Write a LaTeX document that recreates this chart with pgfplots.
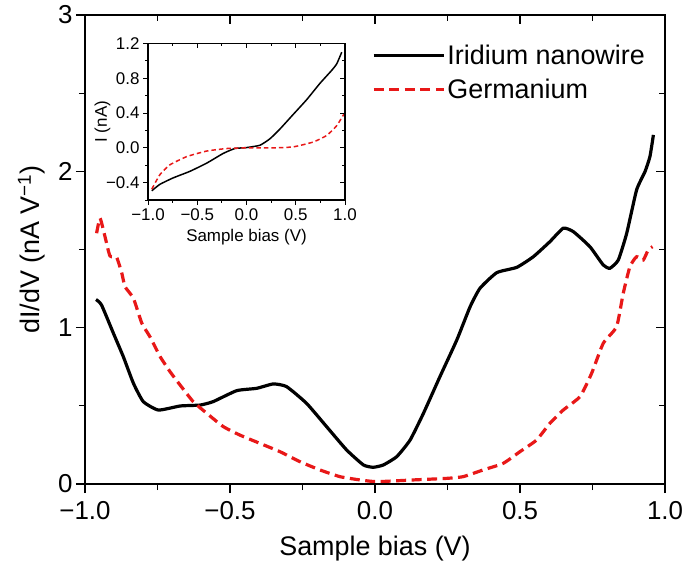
\documentclass[border=0pt]{standalone}
\usepackage{pgfplots}
\pgfplotsset{compat=1.18}
\usepackage{fontspec}
\setmainfont{Liberation Sans}
\definecolor{gered}{RGB}{232,24,24}
\begin{document}
\begin{tikzpicture}
\pgfplotsset{
  common/.style={
    scale only axis,
    xmin=-1, xmax=1,
    axis line style={line width=1.4bp},
    every tick/.style={line width=1.2bp, black},
  }
}
% main axis
\begin{axis}[common,
  width=580bp, height=469bp,
  ymin=0, ymax=3,
  xtick={-1,-0.5,0,0.5,1},
  xticklabels={−1.0,−0.5,0.0,0.5,1.0},
  minor xtick={-0.75,-0.25,0.25,0.75},
  ytick={0,1,2,3},
  yticklabels={0,1,2,3},
  minor ytick={0.5,1.5,2.5},
  xtick pos=left, ytick pos=left,
  tick align=outside,
  major tick length=9bp, minor tick length=6bp,
  ticklabel style={font=\fontsize{26}{30}\selectfont},
  xticklabel style={yshift=-5bp},
  xlabel={Sample bias (V)},
  ylabel={dI/dV (nA V\textsuperscript{−1})},
  label style={font=\fontsize{27}{32}\selectfont},
  xlabel style={at={(axis description cs:0.5,0)}, anchor=north, yshift=-48bp},
  ylabel style={at={(axis description cs:0,0.5)}, anchor=south, yshift=36bp},
  legend style={at={(rel axis cs:0.495,0.94)}, anchor=north west, draw=none, fill=none,
    font=\fontsize{27}{30}\selectfont, row sep=9bp, inner sep=0pt,
    nodes={inner sep=2bp}},
  legend cell align=left,
  legend image code/.code={\draw[#1] (0bp,0bp) -- (57bp,0bp); \path (0bp,0bp) -- (70bp,0bp);},
]
\addplot[black, line width=3.2bp, smooth, tension=0.3] coordinates {
(-0.962,1.18) (-0.943,1.145) (-0.902,0.964) (-0.868,0.815) (-0.833,0.644)
(-0.799,0.527) (-0.747,0.473) (-0.672,0.499) (-0.603,0.505) (-0.558,0.527)
(-0.477,0.597) (-0.408,0.612) (-0.351,0.640) (-0.305,0.623) (-0.236,0.516)
(-0.167,0.367) (-0.098,0.218) (-0.040,0.122) (-0.006,0.107) (0.029,0.122)
(0.075,0.175) (0.121,0.281) (0.167,0.452) (0.224,0.687) (0.282,0.921)
(0.328,1.134) (0.362,1.252) (0.420,1.352) (0.489,1.386) (0.546,1.454)
(0.603,1.550) (0.649,1.636) (0.684,1.614) (0.741,1.518) (0.787,1.401)
(0.810,1.380) (0.839,1.433) (0.868,1.604) (0.902,1.881) (0.931,1.998)
(0.948,2.094) (0.960,2.233)
};
\addlegendentry{Iridium nanowire}
\addplot[gered, line width=3.2bp, dash pattern=on 10bp off 5.5bp, smooth, tension=0.3] coordinates {
(-0.960,1.604) (-0.948,1.70) (-0.931,1.582) (-0.914,1.459) (-0.891,1.450)
(-0.873,1.348) (-0.862,1.262) (-0.833,1.188) (-0.804,1.028) (-0.776,0.942)
(-0.741,0.815) (-0.707,0.719) (-0.672,0.633) (-0.627,0.527) (-0.580,0.452)
(-0.523,0.367) (-0.466,0.313) (-0.397,0.260) (-0.328,0.207) (-0.259,0.143)
(-0.190,0.090) (-0.121,0.047) (-0.052,0.026) (0.006,0.015) (0.132,0.026)
(0.247,0.036) (0.304,0.047) (0.373,0.090) (0.442,0.132) (0.500,0.207)
(0.557,0.281) (0.603,0.388) (0.649,0.473) (0.707,0.559) (0.747,0.708)
(0.787,0.900) (0.833,1.006) (0.856,1.220) (0.879,1.390) (0.902,1.454)
(0.925,1.433) (0.942,1.497) (0.957,1.518)
};
\addlegendentry{Germanium}
\end{axis}
% top/right inward ticks for main axis
\begin{axis}[common,
  width=580bp, height=469bp,
  ymin=0, ymax=3,
  xtick={-1,-0.5,0,0.5,1}, minor xtick={-0.75,-0.25,0.25,0.75},
  ytick={0,1,2,3}, minor ytick={0.5,1.5,2.5},
  xticklabels={}, yticklabels={},
  xtick pos=right, ytick pos=right,
  tick align=inside,
  major tick length=9bp, minor tick length=6bp,
]
\end{axis}
% inset
\begin{axis}[common,
  at={(63bp,284bp)}, anchor=south west,
  width=197bp, height=156.5bp,
  ymin=-0.6, ymax=1.2,
  axis line style={line width=1.1bp},
  every tick/.style={line width=0.9bp, black},
  xtick={-1,-0.5,0,0.5,1},
  xticklabels={−1.0,−0.5,0.0,0.5,1.0},
  minor xtick={-0.75,-0.25,0.25,0.75},
  ytick={-0.4,0,0.4,0.8,1.2},
  yticklabels={−0.4,0.0,0.4,0.8,1.2},
  minor ytick={-0.6,-0.2,0.2,0.6,1.0},
  xtick pos=left, ytick pos=left,
  tick align=outside,
  major tick length=5bp, minor tick length=3bp,
  ticklabel style={font=\fontsize{17}{20}\selectfont},
  xlabel={Sample bias (V)},
  ylabel={I (nA)},
  label style={font=\fontsize{17}{20}\selectfont},
  xlabel style={at={(axis description cs:0.5,0)}, anchor=north, yshift=-26bp},
  ylabel style={at={(axis description cs:0,0.5)}, anchor=south, yshift=34bp},
]
\addplot[black, line width=1.5bp, smooth, tension=0.3] coordinates {
(-0.962,-0.494) (-0.878,-0.419) (-0.743,-0.345) (-0.574,-0.270) (-0.404,-0.176)
(-0.236,-0.064) (-0.117,-0.008) (0.002,0.003) (0.137,0.030) (0.239,0.105)
(0.340,0.217) (0.475,0.385) (0.611,0.554) (0.746,0.742) (0.865,0.891)
(0.916,0.966) (0.967,1.10)
};
\addplot[gered, line width=1.5bp, dash pattern=on 4.5bp off 3bp, smooth, tension=0.3] coordinates {
(-0.962,-0.476) (-0.878,-0.307) (-0.777,-0.195) (-0.607,-0.101) (-0.404,-0.037)
(-0.201,-0.008) (0,0) (0.272,0) (0.475,0.011) (0.678,0.067) (0.814,0.142)
(0.916,0.255) (0.990,0.39)
};
\end{axis}
\begin{axis}[common,
  at={(63bp,284bp)}, anchor=south west,
  width=197bp, height=156.5bp,
  ymin=-0.6, ymax=1.2,
  axis line style={line width=1.1bp},
  every tick/.style={line width=0.9bp, black},
  xtick={-1,-0.5,0,0.5,1}, minor xtick={-0.75,-0.25,0.25,0.75},
  ytick={-0.4,0,0.4,0.8,1.2}, minor ytick={-0.6,-0.2,0.2,0.6,1.0},
  xticklabels={}, yticklabels={},
  xtick pos=right, ytick pos=right,
  tick align=inside,
  major tick length=5bp, minor tick length=3bp,
]
\end{axis}
\pgfresetboundingbox
\path[use as bounding box] (-85bp,-82bp) rectangle (600bp,484bp);
\end{tikzpicture}
\end{document}
